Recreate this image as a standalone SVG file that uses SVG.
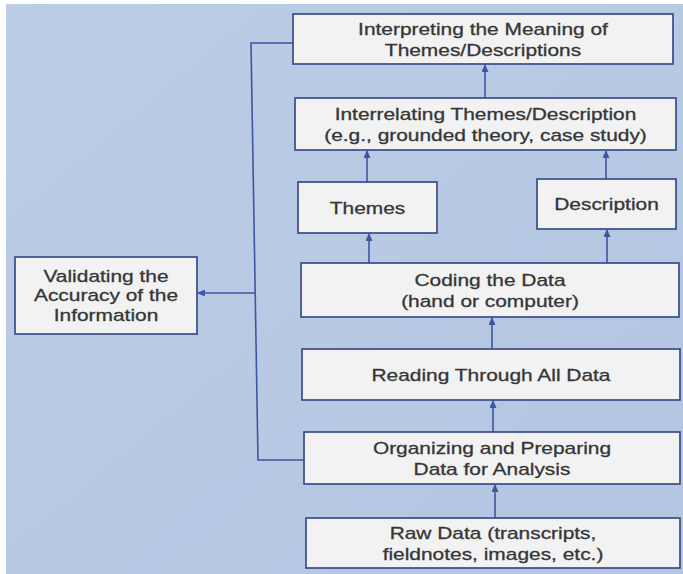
<svg xmlns="http://www.w3.org/2000/svg" width="683" height="574" viewBox="0 0 683 574">
<style>
.box{fill:#f2f2f3;stroke:#3a4c88;stroke-width:1.7}
.t{font-family:"Liberation Sans",Arial,Helvetica,sans-serif;font-size:17px;fill:#363636;stroke:#363636;stroke-width:0.3;text-anchor:middle}
.c{fill:none;stroke:#3d56a0;stroke-width:1.6}
.a{marker-end:url(#ah)}
</style>
<defs>
<marker id="ah" markerUnits="userSpaceOnUse" markerWidth="8" markerHeight="7" refX="7" refY="3.5" orient="auto">
<path d="M0,0 L8,3.5 L0,7 z" fill="#3d56a0"/>
</marker>
<linearGradient id="bg" x1="0" y1="0" x2="1" y2="1">
<stop offset="0" stop-color="#bccde6"/>
<stop offset="1" stop-color="#b3c5e1"/>
</linearGradient>
</defs>
<rect width="683" height="574" fill="#ffffff"/>
<rect x="6" y="4" width="677" height="570" fill="url(#bg)"/>

<g id="connectors">
<path class="c a" d="M485,98 L485,65"/>
<path class="c a" d="M367,182 L367,151"/>
<path class="c a" d="M606,179 L606,151"/>
<path class="c a" d="M369,263 L369,234"/>
<path class="c a" d="M607,263 L607,230"/>
<path class="c a" d="M492,349 L492,318"/>
<path class="c a" d="M493,432 L493,401"/>
<path class="c a" d="M495,518 L495,485"/>
<path class="c" d="M304,460 L258,460 L251,43 L293,43"/>
<path class="c a" d="M255,293 L198,293"/>
</g>

<g id="interpreting">
<rect class="box" x="293" y="14" width="380" height="50"/>
<text class="t" transform="translate(483,34.6) scale(1.23,1)"><tspan x="0">Interpreting the Meaning of</tspan><tspan x="0" dy="21">Themes/Descriptions</tspan></text>
</g>
<g id="interrelating">
<rect class="box" x="295" y="98" width="381" height="52"/>
<text class="t" transform="translate(485.5,119.6) scale(1.23,1)"><tspan x="0">Interrelating Themes/Description</tspan><tspan x="0" dy="21">(e.g., grounded theory, case study)</tspan></text>
</g>
<g id="themes">
<rect class="box" x="298" y="182" width="139" height="51"/>
<text class="t" transform="translate(367.5,213.6) scale(1.23,1)">Themes</text>
</g>
<g id="description">
<rect class="box" x="537" y="179" width="139" height="50"/>
<text class="t" transform="translate(606.5,210) scale(1.23,1)">Description</text>
</g>
<g id="coding">
<rect class="box" x="301" y="263" width="378" height="54"/>
<text class="t" transform="translate(490,285.6) scale(1.23,1)"><tspan x="0">Coding the Data</tspan><tspan x="0" dy="21">(hand or computer)</tspan></text>
</g>
<g id="reading">
<rect class="box" x="302" y="349" width="378" height="51"/>
<text class="t" transform="translate(491,381) scale(1.23,1)">Reading Through All Data</text>
</g>
<g id="organizing">
<rect class="box" x="304" y="432" width="376" height="52"/>
<text class="t" transform="translate(492,453.6) scale(1.23,1)"><tspan x="0">Organizing and Preparing</tspan><tspan x="0" dy="21">Data for Analysis</tspan></text>
</g>
<g id="raw">
<rect class="box" x="306" y="518" width="374" height="50"/>
<text class="t" transform="translate(493,538.6) scale(1.23,1)"><tspan x="0">Raw Data (transcripts,</tspan><tspan x="0" dy="21">fieldnotes, images, etc.)</tspan></text>
</g>
<g id="validating">
<rect class="box" x="15" y="257" width="182" height="77"/>
<text class="t" transform="translate(106,281.5) scale(1.23,1)"><tspan x="0">Validating the</tspan><tspan x="0" dy="20">Accuracy of the</tspan><tspan x="0" dy="20">Information</tspan></text>
</g>
</svg>
